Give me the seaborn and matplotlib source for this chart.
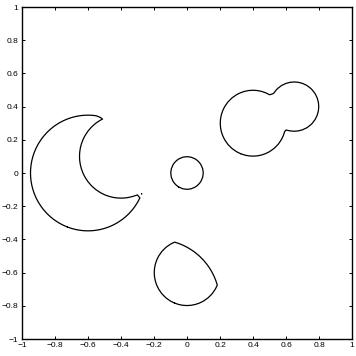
import numpy as np
import matplotlib
matplotlib.use("Agg")
import matplotlib.pyplot as plt
import seaborn as sns
import pandas as pd

# Shapes as circles: (center x, center y, radius)
crescent_outer = [-0.6, 0.0, 0.35]
crescent_inner = [-0.4, 0.1, 0.25]
small_disc = [0.0, 0.0, 0.1]
pair_left = [0.4, 0.3, 0.2]
pair_right = [0.65, 0.4, 0.15]
egg_disc = [0.0, -0.6, 0.2]
egg_clip = [-0.18, -0.78, 0.38]

tick_values = [-1, -0.8, -0.6, -0.4, -0.2, 0, 0.2, 0.4, 0.6, 0.8, 1]
tick_labels = ["\u22121", "\u22120.8", "\u22120.6", "\u22120.4", "\u22120.2",
               "0", "0.2", "0.4", "0.6", "0.8", "1"]

n_grid = 81
zero_level = -0.0015
xs = np.linspace(-1, 1, n_grid)
X, Y = np.meshgrid(xs, xs)


def disc(c):
    return np.hypot(X - c[0], Y - c[1]) - c[2]


# signed level-set function: negative inside the regions
crescent = np.maximum(disc(crescent_outer), -disc(crescent_inner))
pair = np.minimum(disc(pair_left), disc(pair_right))
egg = np.maximum(disc(egg_disc), disc(egg_clip))
phi = np.minimum.reduce([crescent, disc(small_disc), pair, egg])

sns.set_theme(style="ticks")
plt.rcParams["font.family"] = ["Liberation Sans", "DejaVu Sans"]

fig = plt.figure(figsize=(3.56, 3.56), dpi=100)
ax = fig.add_axes([22 / 356, 17 / 356, 330 / 356, 332 / 356])

cs = ax.contour(X, Y, phi, levels=[zero_level])
segments = cs.allsegs[0]
cs.remove()

for i, seg in enumerate(segments):
    df = pd.DataFrame({"x": seg[:, 0], "y": seg[:, 1]})
    sns.lineplot(data=df, x="x", y="y", sort=False, estimator=None,
                 color="black", linewidth=0.9, ax=ax)

ax.set_xlim(-1, 1)
ax.set_ylim(-1, 1)
ax.set_xticks(tick_values)
ax.set_yticks(tick_values)
ax.set_xticklabels(tick_labels)
ax.set_yticklabels(tick_labels)
ax.set_xlabel("")
ax.set_ylabel("")
ax.tick_params(direction="in", length=2.5, width=0.7, labelsize=6,
               top=True, right=True, pad=2.5, colors="black")
for s in ax.spines.values():
    s.set_visible(True)
    s.set_color("black")
    s.set_linewidth(1.0)

fig.savefig("out.png", dpi=100, facecolor="white")
